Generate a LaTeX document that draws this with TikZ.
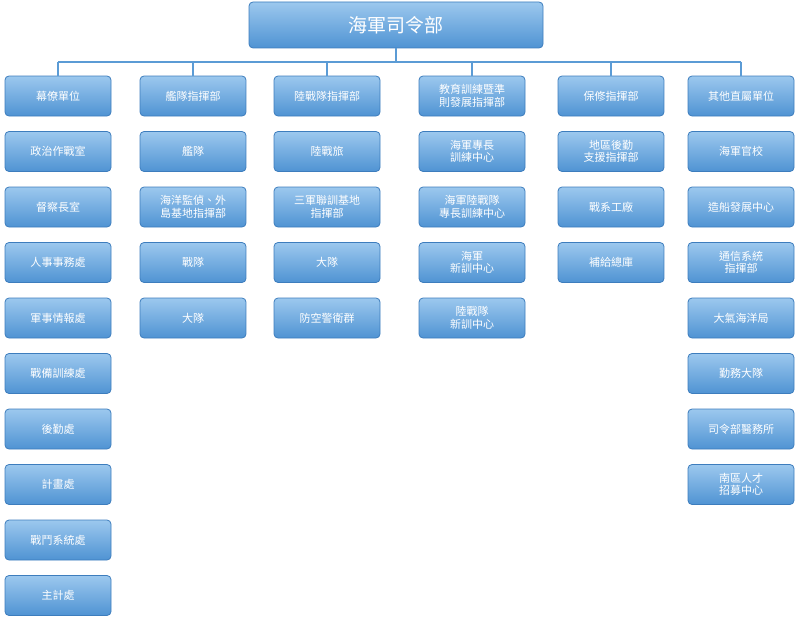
\documentclass[tikz,border=0pt]{standalone}
\usepackage{fontspec}
\setmainfont{Noto Sans CJK TC}
\definecolor{btop}{HTML}{9CC8EE}
\definecolor{bbot}{HTML}{4F93D3}
\definecolor{bedge}{HTML}{3D7DBD}
\definecolor{lnc}{HTML}{5B9BD5}
\begin{document}
\begin{tikzpicture}[x=1pt,y=-1pt,
  box/.style={draw=bedge,line width=0.8pt,rounded corners=4pt,top color=btop,bottom color=bbot,
    text=white,font=\fontsize{11}{12.5}\selectfont,align=center,minimum width=106pt,minimum height=40pt,inner sep=1pt},
  conn/.style={draw=lnc,line width=2pt}]
\useasboundingbox (0,0) rectangle (800,618);
\node[box,minimum width=294pt,minimum height=46pt,font=\fontsize{19}{22}\selectfont] (top) at (396,25) {海軍司令部};
\coordinate (bus) at (396,62);
\def\cols{58/幕僚單位/a,193/艦隊指揮部/b,327/陸戰隊指揮部/c,472/教育訓練暨準\\則發展指揮部/d,611/保修指揮部/e,741/其他直屬單位/f}
\foreach \x/\t/\n in \cols {\node[box] (\n0) at (\x,96) {\t};}
\draw[conn] (top.south) -- (bus);
\draw[conn] (a0.north |- bus) -- (f0.north |- bus);
\foreach \n in {a,b,c,d,e,f} {\draw[conn] (\n0.north |- bus) -- (\n0.north);}
\foreach \t [count=\i] in {政治作戰室,督察長室,人事事務處,軍事情報處,戰備訓練處,後勤處,計畫處,戰鬥系統處,主計處}
  {\node[box] (a\i) at (58,{96+55.5*\i}) {\t};}
\foreach \t [count=\i] in {艦隊,海洋監偵、外\\島基地指揮部,戰隊,大隊}
  {\node[box] (b\i) at (193,{96+55.5*\i}) {\t};}
\foreach \t [count=\i] in {陸戰旅,三軍聯訓基地\\指揮部,大隊,防空警衛群}
  {\node[box] (c\i) at (327,{96+55.5*\i}) {\t};}
\foreach \t [count=\i] in {海軍專長\\訓練中心,海軍陸戰隊\\專長訓練中心,海軍\\新訓中心,陸戰隊\\新訓中心}
  {\node[box] (d\i) at (472,{96+55.5*\i}) {\t};}
\foreach \t [count=\i] in {地區後勤\\支援指揮部,戰系工廠,補給總庫}
  {\node[box] (e\i) at (611,{96+55.5*\i}) {\t};}
\foreach \t [count=\i] in {海軍官校,造船發展中心,通信系統\\指揮部,大氣海洋局,勤務大隊,司令部醫務所,南區人才\\招募中心}
  {\node[box] (f\i) at (741,{96+55.5*\i}) {\t};}
\end{tikzpicture}
\end{document}
